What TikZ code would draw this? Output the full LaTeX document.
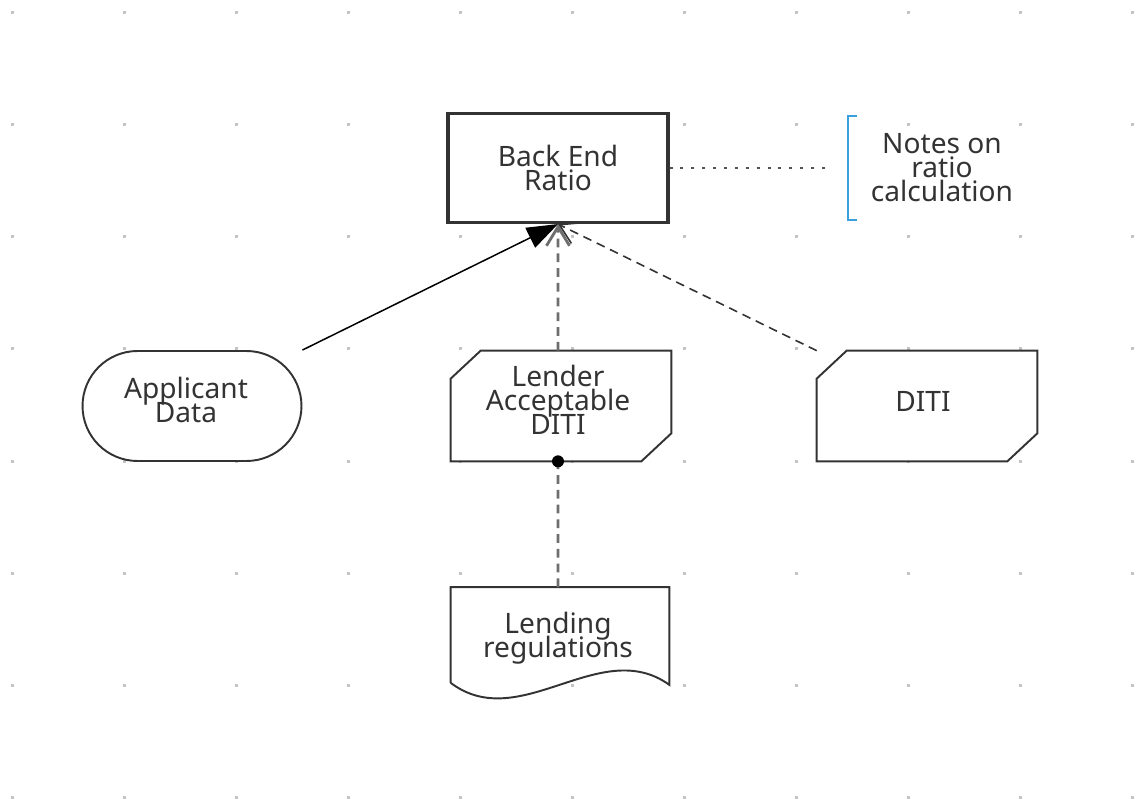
\documentclass[tikz,border=0pt]{standalone}
\usepackage{fontspec}
\setmainfont{Noto Sans}
\usetikzlibrary{arrows.meta,calc}
\definecolor{inkdark}{HTML}{333333}
\definecolor{dashgray}{HTML}{6E6E6E}
\definecolor{gridgray}{HTML}{C4C4C4}
\definecolor{noteblue}{HTML}{3A9FDD}
\newcommand{\diagfont}{\fontsize{16pt}{13.6pt}\selectfont\lineskiplimit=-20pt\relax}

\begin{document}
\begin{tikzpicture}[
  x=0.02cm, y=-0.02cm,
  lbl/.style={
    text=inkdark, font=\diagfont,
    align=center, inner sep=0pt
  },
  ratiobox/.style={
    lbl, rectangle, draw=inkdark, line width=1.8pt, fill=white,
    minimum width=4.4cm, minimum height=2.18cm
  },
  terminal/.style={
    lbl, rectangle, rounded corners=1.1cm, draw=inkdark, line width=1.1pt,
    fill=white, minimum width=4.38cm, minimum height=2.2cm
  },
  cutbox/.style={
    lbl, rectangle, minimum width=4.4cm, minimum height=2.2cm
  },
  docbox/.style={
    lbl, rectangle, minimum width=4.36cm, minimum height=1.94cm
  },
  note/.style={
    lbl, rectangle, minimum width=3.76cm, minimum height=2.08cm
  },
  outline/.style={draw=inkdark, line width=1.1pt, fill=white},
  arrsolid/.style={-{Triangle[length=0.62cm, width=0.44cm]}, line width=0.85pt, black},
  arrvert/.style={-{Straight Barb[length=0.38cm, width=0.46cm]}, line width=1.6pt,
    dashgray, dash pattern=on 5pt off 3.4pt},
  arrdash/.style={-{Straight Barb[length=0.38cm, width=0.46cm]}, line width=0.9pt,
    inkdark, dash pattern=on 5pt off 3.4pt},
  dotline/.style={line width=1.7pt, inkdark!85, dash pattern=on 1.7pt off 4.5pt}
]
\useasboundingbox[fill=white] (0,0) rectangle (1136,800);

% canvas grid
\foreach \gx in {0,...,10}
  \foreach \gy in {0,...,7}
    \fill[gridgray] (10.5+112*\gx, 11.5+112*\gy) rectangle ++(3,3);

\node[ratiobox] (backend) at (558,168) {Back End\\Ratio};
\node[note] (notes) at (942,168) {Notes on\\ratio\\calculation};
\node[terminal] (applicant) at (192,406) {};
\node[lbl] at ($(applicant)+(-6,-6)$) {Applicant\\Data};

\foreach \n/\cx in {lender/561, diti/927}
  \node[cutbox] (\n) at (\cx,406) {};
\foreach \n in {lender,diti}
  \draw[outline] ($(\n.north west)+(0,28)$) -- ($(\n.north west)+(30,0)$)
    -- (\n.north east) -- ($(\n.south east)+(0,-28)$)
    -- ($(\n.south east)+(-30,0)$) -- (\n.south west) -- cycle;
\node[lbl] at ($(lender)+(-3,-6)$) {Lender\\Acceptable\\DITI};
\node[lbl] at ($(diti)+(-4,-5)$) {DITI};

\node[docbox] (lending) at (560,636) {};
\draw[outline] ($(lending.south west)+(0,-2)$) -- (lending.north west)
  -- (lending.north east) -- (lending.south east)
  .. controls (600,635) and (520,735) .. ($(lending.south west)+(0,-2)$);
\node[lbl] at ($(lending)+(-2,2)$) {Lending\\regulations};

% note bracket
\draw[noteblue, line width=1.1pt] ($(notes.north west)+(9,0)$) -- (notes.north west)
  -- (notes.south west) -- ++(9,0);

\draw[dotline] (backend.east) -- ([xshift=-0.32cm]notes.west);
\draw[arrsolid] (applicant.north east) -- (backend.south);
\draw[arrvert] ([xshift=-0.06cm]lender.north) -- (backend.south);
\draw[arrdash] (diti.north west) -- (backend.south);
\draw[arrvert, -] ([xshift=-0.04cm]lending.north) -- ([xshift=-0.06cm]lender.south);
\fill[black] ([xshift=-0.06cm]lender.south) circle[radius=0.12cm];
\end{tikzpicture}
\end{document}
